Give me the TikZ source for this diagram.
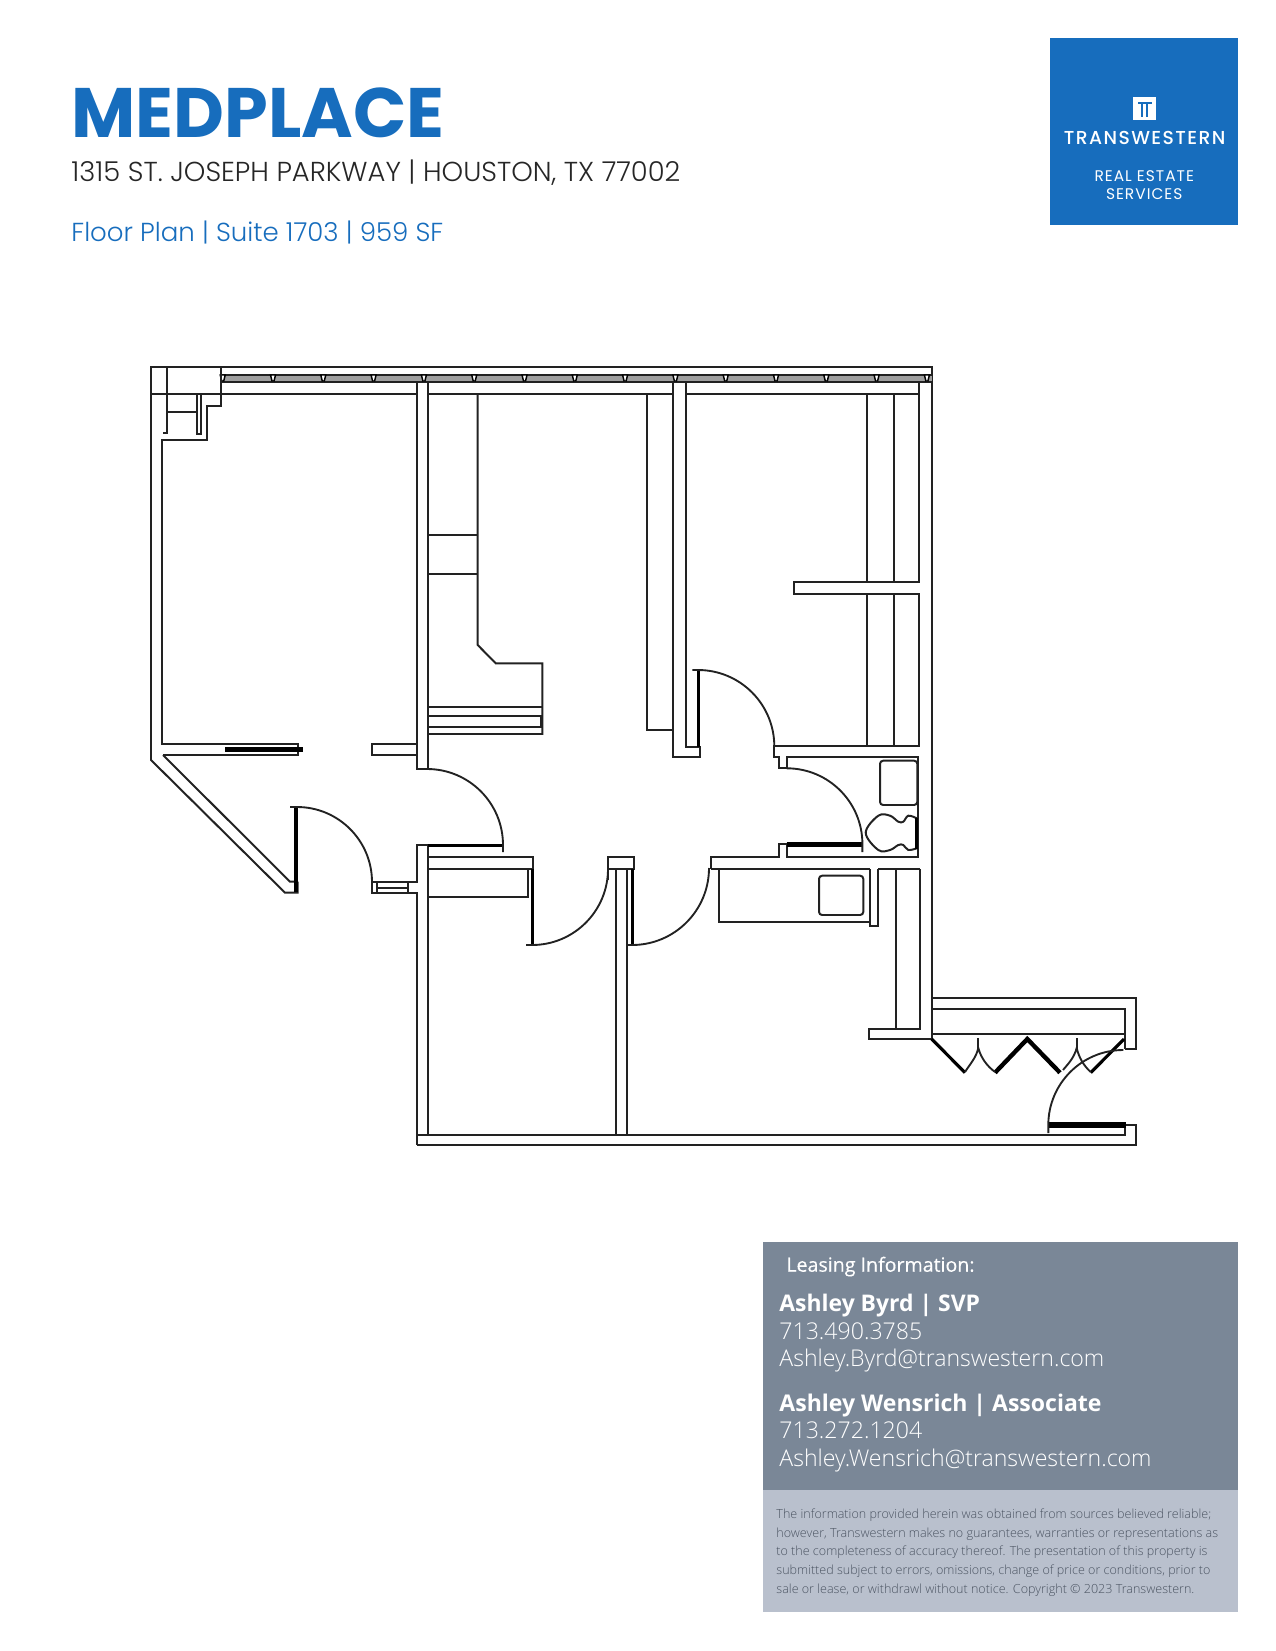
\documentclass[tikz,border=0pt]{standalone}
\usepackage{fontspec}
\setmainfont{Open Sans}
\newfontfamily\lightfont{Open Sans Light}
\newfontfamily\semifont[FakeBold=0.35]{Open Sans}
\newfontfamily\headfont{Poppins}
\newfontfamily\headlight{Poppins Light}
\newfontfamily\brandfont[LetterSpace=7.5]{Poppins Medium}
\newfontfamily\logofont[LetterSpace=6.5]{Poppins}
\definecolor{twblue}{HTML}{176DBD}
\definecolor{slatebox}{HTML}{7A8797}
\definecolor{palebox}{HTML}{B9C0CD}
\definecolor{fineprint}{HTML}{4C5563}
\definecolor{planink}{HTML}{222222}

\begin{document}
\begin{tikzpicture}[x=0.48pt,y=-0.48pt,
    wall/.style={draw=planink,line width=0.95pt},
    leaf/.style={draw=black,line width=1.5pt},
    slab/.style={draw=black,line width=2.5pt},
    swing/.style={draw=planink,line width=0.9pt},
    label/.style={inner sep=0pt,anchor=base west},
    mid/.style={inner sep=0pt,anchor=base}]
    \useasboundingbox (0,0) rectangle (1275,1651);
    \node[label,font=\headfont\bfseries\fontsize{33.6}{33.6}\selectfont,text=twblue] (title) at (71,138) {MEDPLACE};
    \node[label,font=\headlight\fontsize{13.15}{13.15}\selectfont,text=black!85] (address) at (71,182) {1315 ST. JOSEPH PARKWAY | HOUSTON, TX 77002};
    \node[label,font=\headlight\fontsize{12.5}{12.5}\selectfont,text=twblue] (suite) at (71,242) {Floor Plan | Suite 1703 | 959 SF};

    \fill[twblue] (1050,38) rectangle (1238,225);
    \fill[white] (1133,96.7) rectangle (1156,120);
    \fill[twblue] (1137.5,102) rectangle (1151.5,104);
    \fill[twblue] (1141,104) rectangle (1143.2,116.7);
    \fill[twblue] (1145.8,104) rectangle (1148,116.7);
    \node[mid,font=\brandfont\fontsize{9}{9}\selectfont,text=white] (brand) at (1144.7,144.5) {TRANSWESTERN};
    \node[mid,font=\logofont\fontsize{7.4}{7.4}\selectfont,text=white] (realestate) at (1144.2,181.7) {REAL ESTATE};
    \node[mid,font=\logofont\fontsize{7.4}{7.4}\selectfont,text=white] (services) at (1144.2,199.5) {SERVICES};

    \fill[slatebox] (763.3,1242.3) rectangle (1237.7,1490);
    \fill[palebox] (763.3,1490) rectangle (1237.7,1612.3);
    \node[label,font=\semifont\fontsize{9.4}{9.4}\selectfont,text=white] (leasing) at (786,1271.7) {Leasing Information:};
    \node[label,font=\bfseries\fontsize{11}{11}\selectfont,text=white] (byrd) at (779,1311) {Ashley Byrd | SVP};
    \node[label,font=\lightfont\fontsize{11.08}{11.08}\selectfont,text=white] (byrdtel) at (779,1339) {713.490.3785};
    \node[label,font=\lightfont\fontsize{11.08}{11.08}\selectfont,text=white] (byrdmail) at (779,1366) {Ashley.Byrd@transwestern.com};
    \node[label,font=\bfseries\fontsize{11.05}{11.05}\selectfont,text=white] (wensrich) at (779,1411.7) {Ashley Wensrich | Associate};
    \node[label,font=\lightfont\fontsize{11.08}{11.08}\selectfont,text=white] (wensrichtel) at (779,1438.3) {713.272.1204};
    \node[label,font=\lightfont\fontsize{11.08}{11.08}\selectfont,text=white] (wensrichmail) at (779,1466) {Ashley.Wensrich@transwestern.com};
    \foreach \y/\t/\n in {1518.3/The information provided herein was obtained from sources believed reliable;/a,
        1537.3/{however, Transwestern makes no guarantees, warranties or representations as}/b,
        1555.7/to the completeness of accuracy thereof. The presentation of this property is/c,
        1574.3/{submitted subject to errors, omissions, change of price or conditions, prior to}/d,
        1593.3/{sale or lease, or withdrawl without notice. Copyright © 2023 Transwestern.}/e}
        \node[label,font=\lightfont\fontsize{6.02}{6.02}\selectfont,text=fineprint] (note\n) at (776,\y) {\t};

    % outer shell
    \draw[wall] (221,367) -- (151,367) -- (151,760) -- (285,892.7) -- (297.7,892.7) -- (297.7,881.7);
    \draw[wall] (221,367) -- (932,367) -- (932,1039) -- (869.3,1039) -- (869.3,1029.3) -- (920,1029.3) -- (920,869);
    \draw[wall] (163,755) -- (290,881.7) -- (296,881.7);
    \fill[gray!75] (221,375) rectangle (932,382);
    \draw[wall] (221,375) -- (932,375) (221,382) -- (932,382);
    \foreach \i in {0,...,14}
        \filldraw[draw=black,fill=white,line width=0.7pt] ({222.7+50.3*\i-2.5},375) -- ({222.7+50.3*\i+2.5},375) -- ({222.7+50.3*\i+1},381) -- ({222.7+50.3*\i-1},381) -- cycle;

    % corner closet
    \draw[wall] (221,367) -- (221,405.7) -- (206.7,405.7) -- (206.7,440) -- (161.7,440) -- (161.7,744) -- (297.7,744) -- (297.7,755) -- (163,755);
    \draw[wall] (151,394.3) -- (416.7,394.3);
    \draw[wall] (166.7,367) -- (166.7,433) -- (162.7,433);
    \draw[wall] (166.7,412.3) -- (196.7,412.3);
    \draw[wall] (196.7,394.3) -- (196.7,434) -- (200.7,434) -- (200.7,394.3);
    \draw[slab] (225,749.7) -- (303,749.7);

    % west partition and stubs
    \draw[wall] (416.7,382) -- (416.7,769) -- (430,769);
    \draw[wall] (427.7,382) -- (427.7,769);
    \draw[wall] (416.7,744) -- (372.3,744) -- (372.3,755) -- (416.7,755);
    \draw[wall] (427.7,394.3) -- (673.3,394.3);
    \draw[wall] (685.7,394.3) -- (919.3,394.3);
    \draw[wall] (416.7,1145) -- (416.7,892.7) -- (372.3,892.7) -- (372.3,881.7) -- (416.7,881.7) -- (416.7,845) -- (427.7,845) -- (427.7,856.7);
    \draw[wall] (377.3,881.7) -- (377.3,892.7) (408.3,881.7) -- (408.3,892.7) (377.3,887.7) -- (408.3,887.7);
    \draw[wall] (427.7,1135) -- (427.7,856.7) -- (533.3,856.7) -- (533.3,869);
    \draw[wall] (427.7,869) -- (531.7,869) (527.7,869) -- (527.7,896.7) -- (427.7,896.7);

    % kitchen run
    \draw[wall] (477.7,394.3) -- (477.7,645) -- (495.7,663.3) -- (542.3,663.3) -- (542.3,734) -- (427.7,734);
    \draw[wall] (427.7,535) -- (477.7,535) (427.7,574.3) -- (477.7,574.3);
    \draw[wall] (427.7,706.7) -- (542.3,706.7);
    \draw[wall] (427.7,716) -- (540.7,716) -- (540.7,726.7) -- (427.7,726.7);

    % centre partition
    \draw[wall] (673.3,382) -- (673.3,756.7) -- (700,756.7) -- (700,746.7) -- (685.7,746.7) -- (685.7,382);
    \draw[wall] (647.3,394.3) -- (647.3,730) -- (673.3,730);

    % east closets
    \draw[wall] (919.3,382) -- (919.3,582.3) -- (794,582.3) -- (794,594.3) -- (919.3,594.3) -- (919.3,746.3) -- (774.3,746.3) -- (774.3,756.7) -- (779.3,756.7) -- (779.3,768.3) -- (786.7,768.3) -- (786.7,756.7) -- (918.3,756.7) -- (918.3,857.3) -- (786.7,857.3) -- (786.7,844.3) -- (779.3,844.3) -- (779.3,857.3) -- (710.7,857.3) -- (710.7,869);
    \foreach \x in {867.3,894.3}
        \draw[wall] (\x,394.3) -- (\x,582.3) (\x,594.3) -- (\x,746.3);
    \draw[wall,rounded corners=1.5pt] (880,760.7) rectangle (917.3,805);
    \draw[wall] plot[smooth,tension=0.6] coordinates {(916.7,818.3) (908.3,815.7) (903.3,821.7) (898.3,821.7) (890,815.7) (878.3,815.7) (865.7,832.7) (878.3,850) (890,850) (898.3,845) (903.3,845) (908.3,850) (916.7,848.3)};
    \draw[leaf] (916.7,818) -- (916.7,849);

    % lower rooms
    \draw[wall] (608.3,880) -- (608.3,857.3) -- (634,857.3) -- (634,869) -- (608.3,869);
    \draw[wall] (615.7,869) -- (615.7,1135) (626.7,869) -- (626.7,1135);
    \draw[wall] (710.7,869) -- (870,869) (878.3,869) -- (920,869);
    \draw[wall] (719,869) -- (719,921.7) -- (870,921.7);
    \draw[wall] (870,869) -- (870,926) -- (878.3,926) -- (878.3,869);
    \draw[wall,rounded corners=1.5pt] (819,875.7) rectangle (863.3,915);
    \draw[wall] (896,869) -- (896,1029.3);

    % entry alcove and south wall
    \draw[wall] (932,998.3) -- (1136,998.3) -- (1136,1048.7) -- (1125.3,1048.7);
    \draw[wall] (931.7,1039) -- (931.7,1009.3) -- (1125.3,1009.3) -- (1125.3,1048.7) (931.7,1034) -- (1125.3,1034);
    \draw[wall] (416.7,1135) -- (1125.3,1135) -- (1125.3,1125) -- (1136,1125) -- (1136,1145) -- (416.7,1145);
    \draw[leaf] (931.7,1039) -- (965,1072.7);
    \draw[leaf,line width=2.1pt] (995,1072.7) -- (1027.3,1039) -- (1060,1072.7);
    \draw[leaf] (1090.7,1072.7) -- (1124,1039);
    \draw[swing] (978.3,1038) -- (978.3,1050) (1076.7,1038) -- (1076.7,1050);
    \draw[swing] (965,1072) .. controls (970,1064) and (976,1058) .. (978.3,1048) .. controls (981,1058) and (987,1066) .. (995,1072);
    \draw[swing] (1063,1070) .. controls (1068,1064) and (1074,1058) .. (1076.7,1048) .. controls (1079,1058) and (1084,1066) .. (1090.7,1072);
    \draw[slab] (1048.3,1125) -- (1126,1125);
    \draw[swing] (1048.3,1133) -- (1048.3,1125) arc[start angle=180,end angle=270,radius=75];

    % door leaves and swings
    \draw[leaf] (296,807) -- (296,892);
    \draw[swing] (290,807) -- (297,807) arc[start angle=-90,end angle=0,radius=75];
    \draw[leaf] (427.7,845.5) -- (503.5,845.5);
    \draw[swing] (427,769) arc[start angle=-90,end angle=0,radius=76] -- (503,852);
    \draw[leaf] (532.3,869) -- (532.3,945);
    \draw[swing] (526,945) -- (532,945) arc[start angle=90,end angle=0,radius=76];
    \draw[leaf] (632.3,869) -- (632.3,945);
    \draw[swing] (626.7,945) -- (632,945) arc[start angle=90,end angle=0,radius=77];
    \draw[leaf] (698.3,670) -- (698.3,746.7);
    \draw[swing] (692.3,670) -- (698,670) arc[start angle=-90,end angle=0,radius=76.3];
    \draw[slab] (786.7,844.5) -- (862.3,844.5);
    \draw[swing] (786.7,768.3) arc[start angle=-90,end angle=0,radius=75.7] -- (862.4,852);
\end{tikzpicture}
\end{document}
